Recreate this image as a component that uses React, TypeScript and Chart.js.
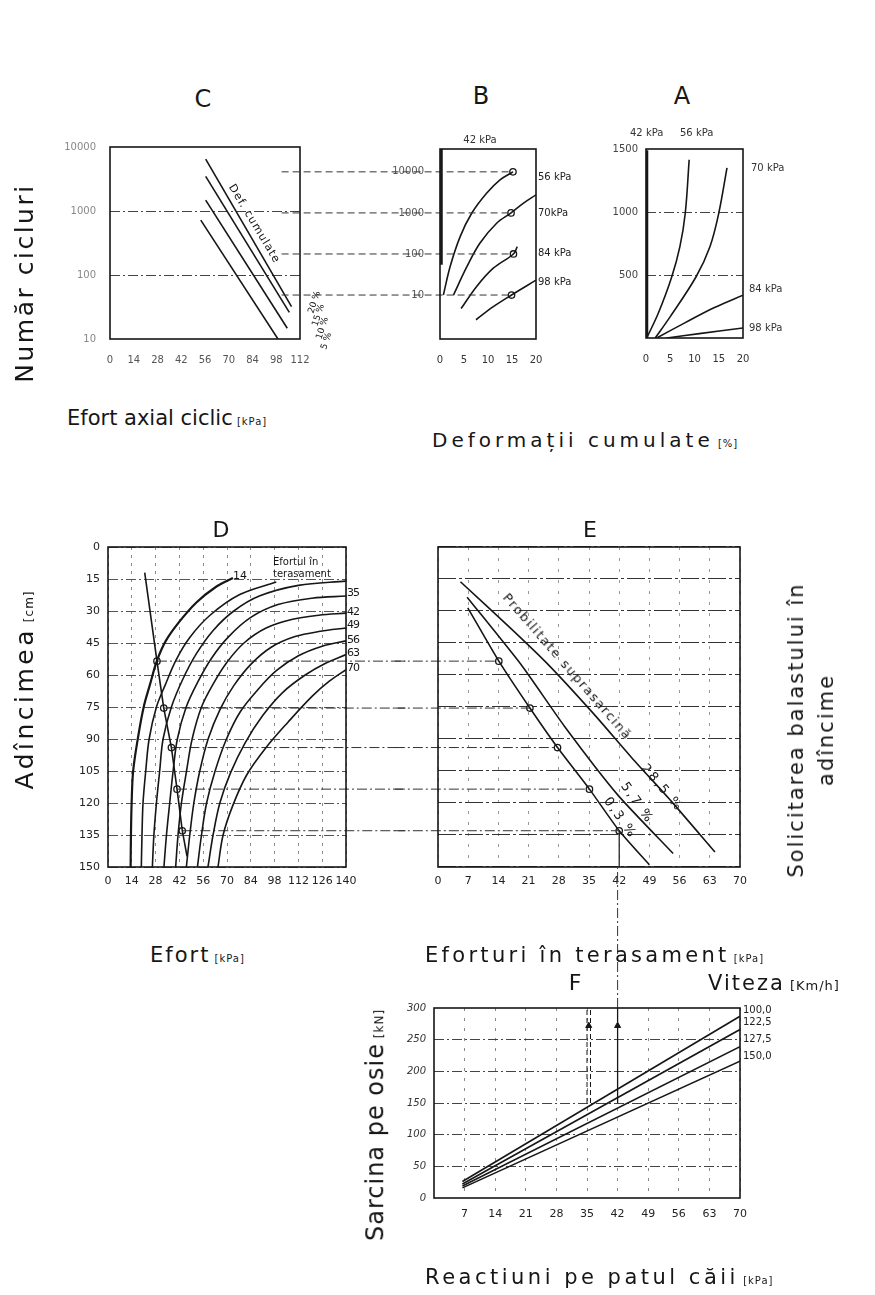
import React, { useEffect, useRef } from "react";
import { Chart, registerables } from "chart.js";
Chart.register(...registerables);

type Pt = [number, number];

// ================= DATA =================
// Panel C — Număr cicluri vs efort axial ciclic
const cStressTicks = [0, 14, 28, 42, 56, 70, 84, 98, 112];
const cCycleTicks = [10, 100, 1000, 10000];
const cGridCycles = [100, 1000];
const cDef20: Pt[] = [[56.4, 6450], [107, 32]];
const cDef15: Pt[] = [[56.4, 3470], [105.7, 26]];
const cDef10: Pt[] = [[56.4, 1480], [104.5, 14.7]];
const cDef5: Pt[] = [[53.5, 720], [99, 10]];
const cStrainLabels = ["20 %", "15 %", "10 %", "5 %"];

// Panel B — cycles vs deformații cumulate
const bStrainTicks = [0, 5, 10, 15, 20];
const bCycleTicks = [10, 100, 1000, 10000];
const b42: Pt[] = [[0.3, 36000], [0.3, 55]];
const b56: Pt[] = [[0.7, 10], [2.1, 49], [4.2, 265], [6.6, 980], [9.7, 3000], [12.5, 6400], [15.2, 10000]];
const b70: Pt[] = [[2.8, 10], [5.6, 49], [8.3, 182], [11.8, 560], [14.8, 1000], [17.4, 1730], [20, 2750]];
const b84: Pt[] = [[4.4, 4.7], [7.6, 16], [11.1, 45], [15.3, 100], [16.1, 150]];
const b98: Pt[] = [[7.5, 2.5], [11.1, 5.2], [14.9, 10], [20, 23]];
const bMarkers: Pt[] = [[15.2, 10000], [14.8, 1000], [15.3, 100], [14.9, 10]];
const bLevels = [10000, 1000, 100, 10];
const bLinkStart = -33;
const bStressLabels = ["56 kPa", "70kPa", "84 kPa", "98 kPa"];

// Panel A — linear cycles vs deformații
const aStrainTicks = [0, 5, 10, 15, 20];
const aCycleTicks = [500, 1000, 1500];
const aGridCycles = [500, 1000];
const a42: Pt[] = [[0.2, 0], [0.2, 1490]];
const a56: Pt[] = [[0.15, 0], [2.55, 198], [5.3, 484], [7, 727], [8.1, 992], [8.9, 1415]];
const a70: Pt[] = [[1.9, 0], [5, 170], [10.3, 484], [13.2, 727], [15, 990], [16.7, 1350]];
const a84: Pt[] = [[2.2, 0], [8, 120], [14, 240], [20, 340]];
const a98: Pt[] = [[4.3, 0], [11, 35], [20, 80]];

// Panel D — adîncime vs efort
const dStressTicks = [0, 14, 28, 42, 56, 70, 84, 98, 112, 126, 140];
const dDepthTicks = [0, 15, 30, 45, 60, 75, 90, 105, 120, 135, 150];
const d14: Pt[] = [[13.3, 150], [13.5, 135], [13.9, 120], [14.8, 105], [17.5, 90], [21, 75], [24.5, 65], [28.8, 53.3], [34, 44], [42, 35], [52, 26], [63, 19], [73.5, 14.5]];
const d21: Pt[] = [[19.6, 150], [20, 135], [20.6, 120], [22.2, 105], [24.2, 90], [28.5, 75], [33.5, 65], [40, 53], [48, 42.5], [60, 32], [77.5, 22.3], [99, 16.4]];
const d28: Pt[] = [[26.1, 150], [27, 135], [28.5, 120], [30.4, 105], [32.4, 90], [37.3, 75], [44, 62], [52, 50], [62, 39], [74, 30], [89, 23], [112, 18], [140, 16]];
const d35: Pt[] = [[32.9, 150], [34.4, 135], [36.3, 120], [38.3, 105], [40.8, 90], [46, 75], [53, 63], [61, 52], [71, 42], [84, 33], [100, 27], [120, 24], [140, 23]];
const d42: Pt[] = [[39.8, 150], [41.2, 135], [43.2, 120], [46.2, 105], [49.5, 90], [55, 75], [62, 64], [70, 54], [80, 45], [93, 38], [108, 34], [124, 32], [140, 31]];
const d49: Pt[] = [[46.1, 150], [48.1, 135], [50.5, 120], [54, 105], [58.9, 90], [66, 76], [74, 65], [84, 55], [96, 47], [110, 42], [125, 39.5], [140, 38]];
const d56: Pt[] = [[52.6, 150], [55, 135], [58, 120], [63, 105], [69.7, 90], [78, 77], [88, 67], [99, 58], [112, 51], [126, 46.5], [140, 44]];
const d63: Pt[] = [[58.8, 150], [61.8, 135], [65.8, 120], [72, 106], [80.5, 92], [91, 79], [103, 68], [116, 60], [128, 54.5], [140, 50.4]];
const d70: Pt[] = [[64.7, 150], [67.7, 135], [73.5, 121], [81.5, 107], [93, 94], [106, 82], [120, 70], [130, 63], [140, 57.5]];
const dPath: Pt[] = [[21.6, 12], [28.8, 53.5], [32.8, 75.5], [37.3, 94], [40.6, 113.5], [43.7, 133], [46.5, 145]];
const markerDepths = [53.5, 75.5, 94, 113.5, 133];
const dMarkerX = [28.8, 32.8, 37.3, 40.6, 43.7];
const dLinkEnd = 175;
const dCurveLabels = ["35", "42", "49", "56", "63", "70"];

// Panel E — adîncime vs eforturi în terasament
const eStressTicks = [0, 7, 14, 21, 28, 35, 42, 49, 56, 63, 70];
const eDepthTicks = [0, 15, 30, 45, 60, 75, 90, 105, 120, 135, 150];
const e285: Pt[] = [[5.2, 16.3], [16.8, 38], [25.5, 55], [36, 78], [45, 99], [54, 119], [64.2, 143]];
const e57: Pt[] = [[6.75, 23.5], [19.2, 55], [29.3, 84], [41.7, 116.3], [54.5, 143.7]];
const e03: Pt[] = [[6.9, 28.5], [14.1, 53.5], [21.3, 75.5], [27.7, 94], [35.1, 113.5], [42, 133], [49, 149]];
const eMarkerX = [14.1, 21.3, 27.7, 35.1, 42];
const eLinkStart = -10;
const eDropDepth = 150;

// Panel F — sarcina pe osie vs reacțiuni
const fStressTicks = [7, 14, 21, 28, 35, 42, 49, 56, 63, 70];
const fLoadTicks = [0, 50, 100, 150, 200, 250, 300];
const fSpeedLabels = ["100,0", "122,5", "127,5", "150,0"];
const fSpeed100: Pt[] = [[6.5, 26], [70, 287]];
const fSpeed122: Pt[] = [[6.5, 22], [70, 266]];
const fSpeed127: Pt[] = [[6.5, 19], [70, 239]];
const fSpeed150: Pt[] = [[6.5, 16], [70, 216]];
const fArrowA: Pt[] = [[35, 150], [35, 300]];
const fArrowA2: Pt[] = [[35.8, 150], [35.8, 300]];
const fArrowB: Pt[] = [[42, 150], [42, 300]];
const fArrowHeads: Pt[] = [[35.4, 272], [42, 272]];
const fLinkUp: Pt[] = [[42, 300], [42, 521]];

// ================= HELPERS =================
const INK = "#161616";
const FONT = "DejaVu Sans";
const DASHDOT = [10, 3, 2, 3];

const toXY = (d: Pt[]) => d.map(([x, y]) => ({ x, y }));
const line = (d: Pt[], extra: any = {}) => ({
  data: toXY(d), showLine: true, borderColor: INK, borderWidth: 1.6,
  pointRadius: 0, tension: 0, fill: false, ...extra,
});
const curve = (d: Pt[], extra: any = {}) => line(d, { tension: 0.35, ...extra });
const markers = (d: Pt[]) => ({
  data: toXY(d), showLine: false, pointRadius: 3.2, pointBackgroundColor: "#fff",
  pointBorderColor: INK, pointBorderWidth: 1.3, clip: false,
});
const link = (d: Pt[], extra: any = {}) =>
  line(d, { borderWidth: 1, borderColor: "#333", borderDash: DASHDOT, clip: false, ...extra });

const setTicks = (vals: number[]) => (s: any) => { s.ticks = vals.map((v) => ({ value: v })); };
const gridAt = (vals: number[], color: string) => (ctx: any) =>
  ctx.tick && vals.includes(ctx.tick.value) ? color : "rgba(0,0,0,0)";
const plain = (v: any) => String(v);

const framePlugin = {
  id: "frame",
  afterDatasetsDraw(chart: any) {
    const { ctx, chartArea: { left, top, right, bottom } } = chart;
    ctx.save();
    ctx.strokeStyle = INK;
    ctx.lineWidth = 1.6;
    ctx.setLineDash([]);
    ctx.strokeRect(left, top, right - left, bottom - top);
    ctx.restore();
  },
};

type Box = { left: number; top: number; width: number; height: number };
type Area = { l: number; t: number; r: number; b: number };
type PanelSpec = { box: Box; area: Area; datasets: any[]; x: any; y: any };

function Panel({ spec }: { spec: PanelSpec }) {
  const ref = useRef<HTMLCanvasElement>(null);
  useEffect(() => {
    const { box, area } = spec;
    const yW = area.l - box.left;
    const xH = box.top + box.height - area.b;
    const chart = new Chart(ref.current as HTMLCanvasElement, {
      type: "scatter",
      data: { datasets: spec.datasets },
      options: {
        responsive: false,
        animation: false,
        devicePixelRatio: 1,
        events: [],
        layout: { padding: { left: 0, top: area.t - box.top, right: box.left + box.width - area.r, bottom: 0 } },
        plugins: { legend: { display: false }, tooltip: { enabled: false } },
        scales: {
          x: { position: "bottom", ...spec.x, afterFit: (s: any) => { s.height = xH; } },
          y: { position: "left", ...spec.y, afterFit: (s: any) => { s.width = yW; } },
        },
      } as any,
      plugins: [framePlugin],
    });
    return () => chart.destroy();
  }, []);
  const { box } = spec;
  return (
    <canvas
      ref={ref}
      width={box.width}
      height={box.height}
      style={{ position: "absolute", left: box.left, top: box.top, width: box.width, height: box.height }}
    />
  );
}

const tick = (size: number, color: string, padding: number, extra: any = {}) => ({
  font: { family: FONT, size }, color, padding, autoSkip: false, maxRotation: 0, callback: plain, ...extra,
});

// ================= PANELS =================
const panelC: PanelSpec = {
  box: { left: 0, top: 120, width: 400, height: 250 },
  area: { l: 110, t: 147, r: 300, b: 339 },
  x: {
    type: "linear", min: 0, max: 112, afterBuildTicks: setTicks(cStressTicks),
    ticks: tick(10, "#555", 7), grid: { display: false }, border: { display: false },
  },
  y: {
    type: "logarithmic", min: 10, max: 10000, afterBuildTicks: setTicks(cCycleTicks),
    ticks: tick(10, "#888", 14),
    grid: { color: gridAt(cGridCycles, "#444"), lineWidth: 1, drawTicks: false },
    border: { display: false, dash: DASHDOT },
  },
  datasets: [line(cDef20), line(cDef15), line(cDef10), line(cDef5)],
};

const panelB: PanelSpec = {
  box: { left: 270, top: 120, width: 300, height: 250 },
  area: { l: 440, t: 149, r: 536, b: 339 },
  x: {
    type: "linear", min: 0, max: 20, afterBuildTicks: setTicks(bStrainTicks),
    ticks: tick(10, "#333", 7), grid: { display: false }, border: { display: false },
  },
  y: {
    type: "logarithmic", min: 0.85, max: 36000, afterBuildTicks: setTicks(bCycleTicks),
    ticks: tick(10, "#555", 8),
    grid: { display: false }, border: { display: false },
  },
  datasets: [
    ...bLevels.map((lv, i) => link([[bLinkStart, lv], [bMarkers[i][0], lv]], { borderDash: [7, 4] })),
    line(b42, { borderWidth: 2.6 }),
    curve(b56), curve(b70), curve(b84), curve(b98),
    markers(bMarkers),
  ],
};

const panelA: PanelSpec = {
  box: { left: 600, top: 120, width: 200, height: 250 },
  area: { l: 646, t: 149, r: 743, b: 338 },
  x: {
    type: "linear", min: 0, max: 20, afterBuildTicks: setTicks(aStrainTicks),
    ticks: tick(10, "#333", 7), grid: { display: false }, border: { display: false },
  },
  y: {
    type: "linear", min: 0, max: 1500, afterBuildTicks: setTicks(aCycleTicks),
    ticks: tick(10, "#444", 8),
    grid: { color: gridAt(aGridCycles, "#444"), lineWidth: 1, drawTicks: false },
    border: { display: false, dash: DASHDOT },
  },
  datasets: [line(a42, { borderWidth: 2.6 }), curve(a56), curve(a70), curve(a84), curve(a98)],
};

const panelD: PanelSpec = {
  box: { left: 0, top: 520, width: 460, height: 380 },
  area: { l: 108, t: 547, r: 346, b: 867 },
  x: {
    type: "linear", min: 0, max: 140, afterBuildTicks: setTicks(dStressTicks),
    ticks: tick(11, "#222", 8),
    grid: { color: "#8a8a8a", lineWidth: 1, drawTicks: false },
    border: { display: false, dash: [3, 5] },
  },
  y: {
    type: "linear", min: 0, max: 150, reverse: true, afterBuildTicks: setTicks(dDepthTicks),
    ticks: tick(11, "#222", 8),
    grid: { color: "#555", lineWidth: 1, drawTicks: false },
    border: { display: false, dash: DASHDOT },
  },
  datasets: [
    curve(d14, { borderWidth: 2.2 }), curve(d21), curve(d28), curve(d35), curve(d42),
    curve(d49), curve(d56), curve(d63), curve(d70),
    ...markerDepths.map((dp, i) => link([[dMarkerX[i], dp], [dLinkEnd, dp]])),
    line(dPath, { borderWidth: 1.6 }),
    markers(markerDepths.map((dp, i) => [dMarkerX[i], dp] as Pt)),
  ],
};

const panelE: PanelSpec = {
  box: { left: 380, top: 520, width: 400, height: 470 },
  area: { l: 438, t: 547, r: 740, b: 867 },
  x: {
    type: "linear", min: 0, max: 70, afterBuildTicks: setTicks(eStressTicks),
    ticks: tick(11, "#222", 8),
    grid: { color: "#999", lineWidth: 1, drawTicks: false },
    border: { display: false, dash: [3, 8] },
  },
  y: {
    type: "linear", min: 0, max: 150, reverse: true, afterBuildTicks: setTicks(eDepthTicks),
    ticks: { display: false },
    grid: { color: "#333", lineWidth: 1.1, drawTicks: false },
    border: { display: false, dash: [18, 3, 3, 3] },
  },
  datasets: [
    ...markerDepths.map((dp, i) => link([[eLinkStart, dp], [eMarkerX[i], dp]])),
    line([[eMarkerX[4], markerDepths[4]], [eMarkerX[4], eDropDepth]], { borderWidth: 1.2 }),
    curve(e285, { tension: 0.2 }), curve(e57, { tension: 0.2 }), curve(e03, { tension: 0.2 }),
    markers(markerDepths.map((dp, i) => [eMarkerX[i], dp] as Pt)),
  ],
};

const panelF: PanelSpec = {
  box: { left: 340, top: 850, width: 535, height: 445 },
  area: { l: 434, t: 1008, r: 740, b: 1198 },
  x: {
    type: "linear", min: 0, max: 70, afterBuildTicks: setTicks(fStressTicks),
    ticks: tick(11, "#222", 10),
    grid: { color: "#888", lineWidth: 1, drawTicks: false },
    border: { display: false, dash: [3, 7] },
  },
  y: {
    type: "linear", min: 0, max: 300, afterBuildTicks: setTicks(fLoadTicks),
    ticks: tick(10, "#333", 8, { font: { family: FONT, size: 10, style: "italic" } }),
    grid: { color: gridAt([50, 100, 150, 200, 250], "#444"), lineWidth: 1, drawTicks: false },
    border: { display: false, dash: DASHDOT },
  },
  datasets: [
    link(fLinkUp),
    line(fArrowA, { borderWidth: 1, borderDash: [5, 3] }),
    line(fArrowA2, { borderWidth: 1, borderDash: [5, 3] }),
    line(fArrowB, { borderWidth: 1.3 }),
    {
      data: toXY(fArrowHeads), showLine: false, pointStyle: "triangle", pointRadius: 3.5,
      pointBackgroundColor: INK, pointBorderColor: INK, clip: false,
    },
    line(fSpeed100), line(fSpeed122), line(fSpeed127), line(fSpeed150),
  ],
};

// ================= TEXT =================
type TxtProps = {
  x: number; y: number; size: number; rot?: number; left?: boolean; ls?: number;
  color?: string; children: React.ReactNode; lh?: number; center?: boolean;
};
function Txt({ x, y, size, rot = 0, left = false, ls = 0, color = INK, children, lh, center }: TxtProps) {
  return (
    <div
      style={{
        position: "absolute", left: x, top: y,
        transform: `translate(${left ? "0" : "-50%"}, -50%) rotate(${rot}deg)`,
        transformOrigin: left ? "0 50%" : "50% 50%",
        fontFamily: FONT, fontSize: size, letterSpacing: ls, color,
        whiteSpace: "nowrap", lineHeight: lh ? `${lh}px` : 1.15,
        textAlign: center ? "center" : "left",
      }}
    >
      {children}
    </div>
  );
}

const unit = (s: string, size = 10) => <span style={{ fontSize: size, letterSpacing: 1 }}> {s}</span>;

export default function App() {
  return (
    <div style={{ position: "absolute", left: 0, top: 0, width: 875, height: 1295, overflow: "hidden", background: "#fff" }}>
      <Panel spec={panelC} />
      <Panel spec={panelB} />
      <Panel spec={panelA} />
      <Panel spec={panelD} />
      <Panel spec={panelE} />
      <Panel spec={panelF} />

      {/* panel letters */}
      <Txt x={203} y={100} size={24}>C</Txt>
      <Txt x={481} y={97} size={24}>B</Txt>
      <Txt x={682} y={97} size={24}>A</Txt>
      <Txt x={221} y={530} size={22}>D</Txt>
      <Txt x={590} y={530} size={22}>E</Txt>
      <Txt x={575} y={983} size={22}>F</Txt>

      {/* panel C */}
      <Txt x={25} y={283} size={25} ls={2.5} rot={-90}>Număr cicluri</Txt>
      <Txt x={67} y={418} size={21} left>Efort axial ciclic{unit("[kPa]")}</Txt>
      <Txt x={254} y={224} size={11} ls={1} rot={59}>Def. cumulate</Txt>
      {cStrainLabels.map((s, i) => (
        <Txt key={s} x={314 + i * 4} y={302 + i * 13} size={9} rot={-72}>{s}</Txt>
      ))}

      {/* panel B */}
      <Txt x={480} y={140} size={10} color="#333">42 kPa</Txt>
      {bStressLabels.map((s, i) => (
        <Txt key={s} x={538} y={[177, 213, 253, 282][i]} size={10} left color="#222">{s}</Txt>
      ))}
      <Txt x={432} y={440} size={20} ls={4} left>Deformații cumulate{unit("[%]")}</Txt>

      {/* panel A */}
      <Txt x={630} y={133} size={10} left color="#333">42 kPa</Txt>
      <Txt x={680} y={133} size={10} left color="#333">56 kPa</Txt>
      <Txt x={751} y={168} size={10} left color="#333">70 kPa</Txt>
      <Txt x={749} y={289} size={10} left color="#333">84 kPa</Txt>
      <Txt x={749} y={328} size={10} left color="#333">98 kPa</Txt>

      {/* panel D */}
      <Txt x={240} y={576} size={11}>14</Txt>
      <Txt x={273} y={568} size={10} left lh={12}>Efortul în<br />terasament</Txt>
      {dCurveLabels.map((s, i) => (
        <Txt key={s} x={347} y={[593, 612, 625, 640, 653, 668][i]} size={11} left ls={-1}>{s}</Txt>
      ))}
      <Txt x={25} y={690} size={25} ls={3.5} rot={-90}>Adîncimea{unit("[cm]", 12)}</Txt>
      <Txt x={150} y={955} size={21} ls={2} left>Efort{unit("[kPa]")}</Txt>

      {/* panel E */}
      <Txt x={567} y={667} size={13} ls={1.5} rot={49}>Probilitate suprasarcină</Txt>
      <Txt x={662} y={788} size={13} ls={2} rot={50}>28,5 %</Txt>
      <Txt x={637} y={803} size={13} ls={2} rot={55}>5,7 %</Txt>
      <Txt x={620} y={818} size={13} ls={2} rot={55}>0,3 %</Txt>
      <Txt x={425} y={955} size={21} ls={3.3} left>Eforturi în terasament{unit("[kPa]")}</Txt>
      <Txt x={811} y={730} size={21} ls={2} rot={-90} center lh={30}>
        Solicitarea balastului în<br />adîncime
      </Txt>

      {/* panel F */}
      <Txt x={708} y={983} size={21} ls={2} left>Viteza{unit("[Km/h]", 13)}</Txt>
      {fSpeedLabels.map((s, i) => (
        <Txt key={s} x={743} y={[1010, 1022, 1039, 1056][i]} size={10} left color="#222">{s}</Txt>
      ))}
      <Txt x={376} y={1125} size={24} ls={1} rot={-90}>Sarcina pe osie{unit("[kN]", 12)}</Txt>
      <Txt x={425} y={1277} size={21} ls={3.5} left>Reactiuni pe patul căii{unit("[kPa]")}</Txt>
    </div>
  );
}
